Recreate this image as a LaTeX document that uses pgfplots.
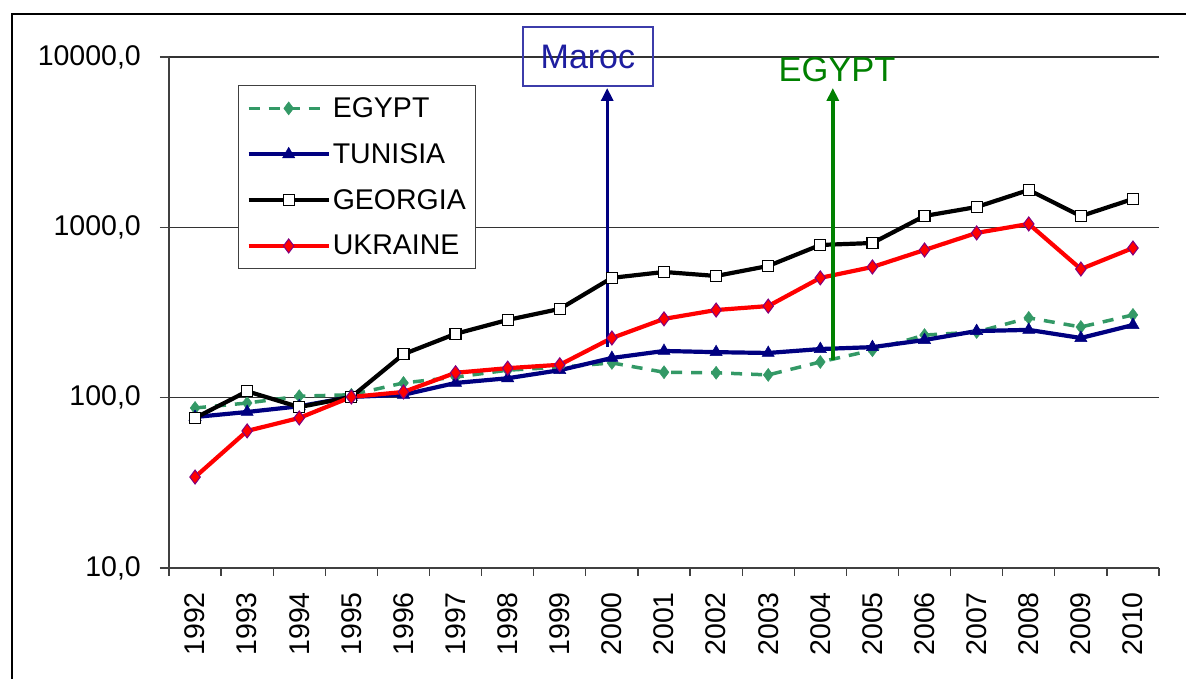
\documentclass[border=0pt]{standalone}
\usepackage{pgfplots}
\pgfplotsset{compat=1.18}
\usepackage{fontspec}
\setmainfont{Liberation Sans}
\usetikzlibrary{arrows.meta}
\definecolor{egy}{RGB}{51,153,102}
\definecolor{tun}{RGB}{0,0,128}
\definecolor{ukrm}{RGB}{128,0,128}
\definecolor{marocblue}{RGB}{30,30,160}
\definecolor{annogreen}{RGB}{0,128,0}
\begin{document}
\begin{tikzpicture}[x=1pt,y=1pt]
\useasboundingbox (0,0) rectangle (1186,679);
\draw[line width=1.5pt,black] (12,-5) -- (12,665) -- (1190,665);
\begin{axis}[
  at={(169pt,111pt)}, anchor=south west,
  scale only axis, width=990pt, height=511pt,
  ymode=log, ymin=10, ymax=10000,
  xmin=-0.5, xmax=18.5,
  axis x line*=bottom, axis y line*=left,
  axis line style={black!75, line width=1.3pt},
  tick align=outside,
  ytick={10,100,1000,10000},
  yticklabels={{10,0},{100,0},{1000,0},{10000,0}},
  yminorticks=false,
  ymajorgrids, grid style={black!80, line width=1.2pt},
  major tick length=9pt,
  y tick style={black!75, line width=1.3pt},
  xtick={0,...,18},
  xticklabels={1992,1993,1994,1995,1996,1997,1998,1999,2000,2001,2002,2003,2004,2005,2006,2007,2008,2009,2010},
  major x tick style={draw=none},
  minor xtick={-0.5,0.5,...,18.5},
  minor tick length=8pt,
  minor x tick style={black!75, line width=1.3pt},
  tick label style={font=\fontsize{28.5}{32}\selectfont},
  xticklabel style={yshift=-15pt, rotate=90, anchor=east, inner sep=0pt},
  yticklabel style={anchor=east, inner sep=0pt, xshift=-19pt},
  clip=false,
  legend style={at={(0.0697,0.945)}, anchor=north west, draw=black!75, line width=1.2pt,
    font=\fontsize{28.5}{32}\selectfont, inner xsep=8pt, inner ysep=10pt, row sep=20.5pt,
    nodes={inner sep=2pt}},
  legend cell align=left,
  legend image code/.code={\draw[#1, mark repeat=2, mark phase=2] plot coordinates {(0pt,0pt) (40pt,0pt) (80pt,0pt)};},
]
\addplot[color=egy, line width=3.5pt, dash pattern=on 11pt off 9pt, mark=diamond*, mark size=6.5pt, mark options={solid, fill=egy, draw=egy, line width=0.5pt}] coordinates {
(0,87)(1,93)(2,102)(3,104)(4,122)(5,132)(6,145)(7,151)(8,160)(9,141)(10,140)(11,136)(12,162)(13,190)(14,233)(15,243)(16,294)(17,260)(18,306)};
\addlegendentry{EGYPT}
\addplot[color=tun, line width=4.2pt, mark=triangle*, mark size=7pt, mark options={fill=tun, draw=tun, line width=0.5pt}] coordinates {
(0,77)(1,82.4)(2,89)(3,101)(4,104)(5,122)(6,130)(7,145)(8,171)(9,188)(10,185)(11,183)(12,193)(13,198)(14,218)(15,246)(16,250)(17,224)(18,267)};
\addlegendentry{TUNISIA}
\addplot[color=black, line width=4.2pt, mark=square*, mark size=5.5pt, mark options={fill=white, draw=black, line width=1.2pt}] coordinates {
(0,76)(1,109)(2,88)(3,101)(4,180)(5,237)(6,286)(7,332)(8,505)(9,547)(10,518)(11,593)(12,788)(13,809)(14,1166)(15,1316)(16,1656)(17,1164)(18,1467)};
\addlegendentry{GEORGIA}
\addplot[color=red, line width=4.2pt, mark=diamond*, mark size=7pt, mark options={fill=red, draw=ukrm, line width=1pt}] coordinates {
(0,34.2)(1,63.8)(2,76)(3,101)(4,108)(5,140)(6,149)(7,156)(8,224)(9,290)(10,327)(11,345)(12,505)(13,585)(14,736)(15,927)(16,1047)(17,569)(18,756)};
\addlegendentry{UKRAINE}
\draw[tun, line width=3pt, -{Triangle[length=13pt,width=12pt]}] (axis cs:7.91,198) -- (axis cs:7.91,6577);
\draw[annogreen, line width=3.5pt, -{Triangle[length=13pt,width=12pt]}] (axis cs:12.24,166) -- (axis cs:12.24,6577);
\node[draw={rgb,255:red,60;green,60;blue,170}, line width=1.3pt, minimum width=130pt, minimum height=59pt, inner sep=0pt, text=marocblue, font=\fontsize{34}{37}\selectfont] at (axis cs:7.54,10069) {Maroc};
\node[text=annogreen, inner sep=0pt, font=\fontsize{34.5}{37}\selectfont] at (axis cs:12.32,8395) {EGYPT};
\end{axis}
\end{tikzpicture}
\end{document}
